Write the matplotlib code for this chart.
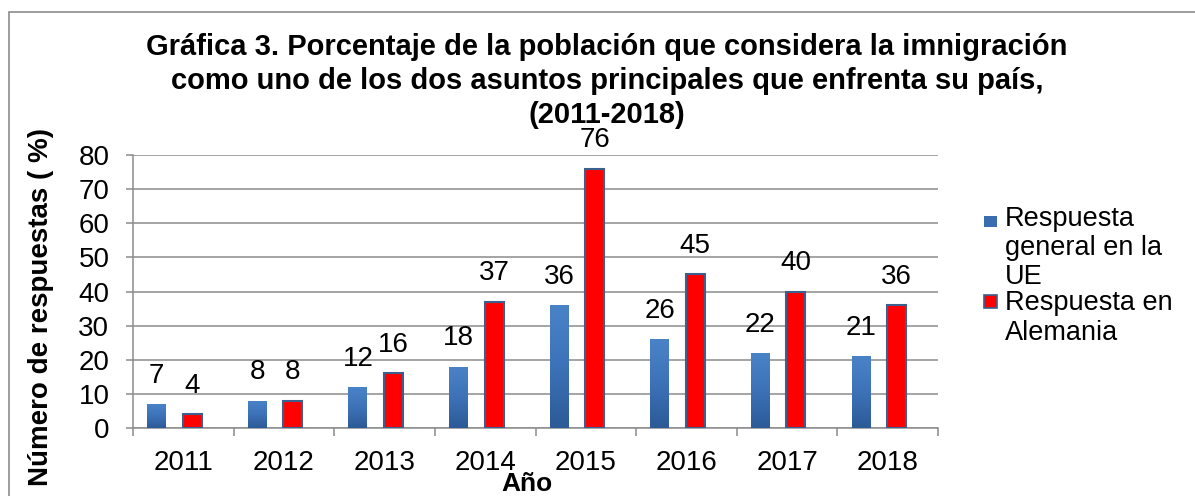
import numpy as np
import matplotlib
matplotlib.use('Agg')
import matplotlib.pyplot as plt
from matplotlib.patches import Rectangle
from matplotlib.colors import LinearSegmentedColormap

plt.rcParams['font.family'] = ['Liberation Sans', 'DejaVu Sans']

years = ['2011', '2012', '2013', '2014', '2015', '2016', '2017', '2018']
ue = [7, 8, 12, 18, 36, 26, 22, 21]
alemania = [4, 8, 16, 37, 76, 45, 40, 36]
series_names = ['Respuesta\ngeneral en la\nUE', 'Respuesta en\nAlemania']

W, H = 1195, 496
fig = plt.figure(figsize=(W / 100, H / 100), dpi=100)
ax = fig.add_axes([133 / W, 1 - 428 / H, 805 / W, 273 / H])

x = np.arange(len(years))
bw = 0.188
off_ue, off_de = -0.265, 0.088

blue_cmap = LinearSegmentedColormap.from_list('b', ['#2c5a97', '#3d72b8', '#4a82c8'])
grid_c = '#8c8c8c'
fs = 20

# blue bars with vertical gradient
for xi, v in zip(x, ue):
    x0 = xi + off_ue - bw / 2
    grad = np.linspace(0, 1, 100).reshape(-1, 1)
    im = ax.imshow(grad, cmap=blue_cmap, aspect='auto', origin='lower',
                   extent=[x0, x0 + bw, 0, v], zorder=3)
    r = Rectangle((x0, 0), bw, v, facecolor='none', edgecolor='none', zorder=3)
    ax.add_patch(r)
    im.set_clip_path(r)
    ax.annotate(str(v), (xi + off_ue, v), xytext=(0, 11), textcoords='offset points',
                ha='center', va='bottom', fontsize=fs)

ax.bar(x + off_de, alemania, width=bw, color='#ff0000', edgecolor='#3b5f8e',
       linewidth=1.5, zorder=3)
for xi, v in zip(x, alemania):
    ax.annotate(str(v), (xi + off_de, v), xytext=(0, 11), textcoords='offset points',
                ha='center', va='bottom', fontsize=fs)

ax.set_xlim(-0.5, len(years) - 0.5)
ax.set_ylim(0, 80)
ax.set_yticks(np.arange(0, 81, 10))
ax.set_xticks(x)
ax.set_xticklabels(years)
ax.set_xticks(np.arange(-0.5, len(years), 1), minor=True)
ax.tick_params(axis='x', which='major', length=0, pad=16, labelsize=fs)
ax.tick_params(axis='x', which='minor', length=6, width=1.1, color=grid_c)
ax.tick_params(axis='y', length=5, width=1.1, color=grid_c, pad=12, labelsize=fs)
ax.yaxis.grid(True, color=grid_c, linewidth=1.1, zorder=0)
ax.set_axisbelow(True)
for s in ['top', 'right']:
    ax.spines[s].set_visible(False)
for s in ['left', 'bottom']:
    ax.spines[s].set_color(grid_c)
    ax.spines[s].set_linewidth(1.1)

ax.set_ylabel('Número de respuestas ( %)', fontsize=fs, fontweight='bold', va='center')
ax.yaxis.set_label_coords(-0.114, 0.445)
ax.set_xlabel('Año', fontsize=19, fontweight='bold', va='center')
ax.xaxis.set_label_coords(0.49, -0.205)

fig.text(607 / W, 1 - 81 / H,
         'Gráfica 3. Porcentaje de la población que considera la imnigración\n'
         'como uno de los dos asuntos principales que enfrenta su país,\n'
         '(2011-2018)',
         ha='center', va='center', fontsize=21, fontweight='bold', linespacing=1.27)

# legend
fig.patches.append(Rectangle((984 / W, 1 - 227 / H), 13 / W, 11 / H,
                             transform=fig.transFigure, facecolor='#3a6db0',
                             edgecolor='none'))
fig.patches.append(Rectangle((984 / W, 1 - 308 / H), 13 / W, 13 / H,
                             transform=fig.transFigure, facecolor='#ff0000',
                             edgecolor='#3b5f8e', linewidth=1.2))
fig.text(1005 / W, 1 - 206 / H, series_names[0], ha='left', va='top',
         fontsize=19.5, linespacing=1.15)
fig.text(1005 / W, 1 - 290 / H, series_names[1], ha='left', va='top',
         fontsize=19.5, linespacing=1.2)

# chart border
fig.patches.append(Rectangle((8.5 / W, -0.1), 1.2, 1 - 11.5 / H + 0.1,
                             transform=fig.transFigure, facecolor='none',
                             edgecolor='#8c8c8c', linewidth=1.2))

fig.savefig('out.png', dpi=100)
